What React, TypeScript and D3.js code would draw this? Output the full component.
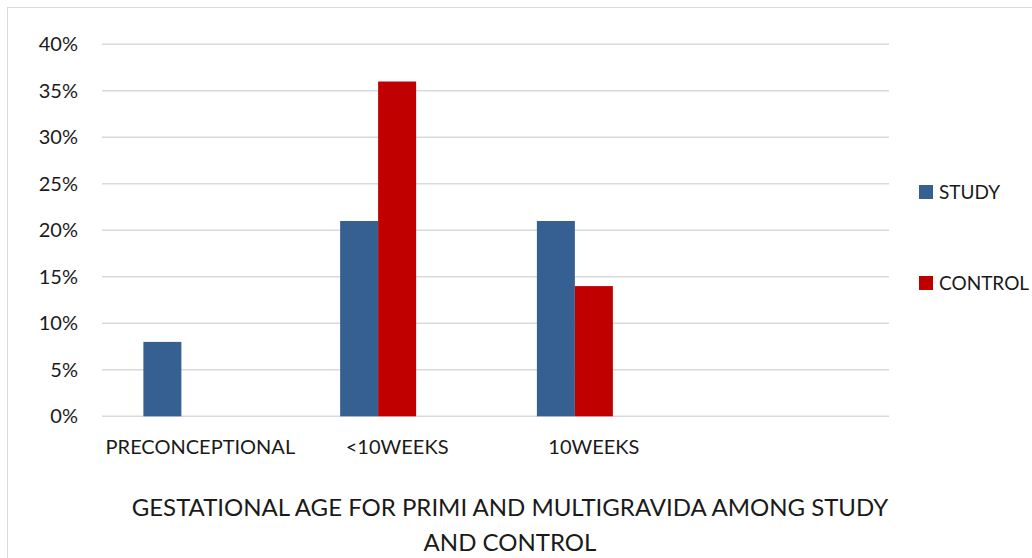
import React from "react";
import * as d3 from "d3";

const categories = ["PRECONCEPTIONAL", "<10WEEKS", "10WEEKS", ""];
const seriesNames = ["STUDY", "CONTROL", ""];
const studyValues = [8, 21, 21, null];
const controlValues = [null, 36, 14, null];
const emptyValues = [null, null, null, null];
const yTicks = [0, 5, 10, 15, 20, 25, 30, 35, 40];
const colors = ["#376092", "#C00000", "none"];
const titleLines = ["GESTATIONAL AGE FOR PRIMI AND MULTIGRAVIDA AMONG STUDY", "AND CONTROL"];

const W = 1032;
const H = 558;
const FONT = "Lato, 'Open Sans', sans-serif";

export default function App() {
  const plot = { left: 102, right: 889, top: 44.3, bottom: 416.3 };
  const x = d3.scaleBand<string>().domain(categories.map((c, i) => String(i))).range([plot.left, plot.right]).paddingInner(0).paddingOuter(0);
  const inner = d3.scaleBand<string>().domain(seriesNames.map((s, i) => String(i))).range([0, x.bandwidth()]).paddingOuter(1.089).paddingInner(0);
  const y = d3.scaleLinear().domain([0, 40]).range([plot.bottom, plot.top]);
  const series = [studyValues, controlValues, emptyValues];

  return (
    <svg width={W} height={H} style={{ position: "absolute", left: 0, top: 0, background: "#fff" }}>
      <rect x={7.5} y={7.5} width={W + 20} height={H + 20} fill="#fff" stroke="#D9D9D9" strokeWidth={1} />
      {yTicks.map((t) => (
        <g key={t}>
          <line x1={plot.left} x2={plot.right} y1={y(t)} y2={y(t)} stroke="#D9D9D9" strokeWidth={1.5} />
          <text x={78} y={y(t)} dy="0.35em" textAnchor="end" fontFamily={FONT} fontSize={20} fill="#1a1a1a">
            {d3.format("d")(t) + "%"}
          </text>
        </g>
      ))}
      {series.map((vals, si) =>
        vals.map((v, ci) =>
          v == null ? null : (
            <rect
              key={`${si}-${ci}`}
              x={(x(String(ci)) as number) + (inner(String(si)) as number)}
              y={y(v)}
              width={inner.bandwidth()}
              height={y(0) - y(v)}
              fill={colors[si]}
            />
          )
        )
      )}
      {categories.map((c, ci) => (
        <text key={ci} x={(x(String(ci)) as number) + x.bandwidth() / 2} y={454} textAnchor="middle" fontFamily={FONT} fontSize={20} fill="#1a1a1a">
          {c}
        </text>
      ))}
      {seriesNames.slice(0, 2).map((s, i) => (
        <g key={s} transform={`translate(919, ${185 + i * 91})`}>
          <rect x={0} y={0} width={14} height={14} fill={colors[i]} />
          <text x={20} y={7} dy="0.35em" fontFamily={FONT} fontSize={19} fill="#1a1a1a">
            {s}
          </text>
        </g>
      ))}
      {titleLines.map((l, i) => (
        <text key={i} x={510} y={516 + i * 35} textAnchor="middle" fontFamily={FONT} fontSize={24} fill="#1a1a1a">
          {l}
        </text>
      ))}
    </svg>
  );
}
